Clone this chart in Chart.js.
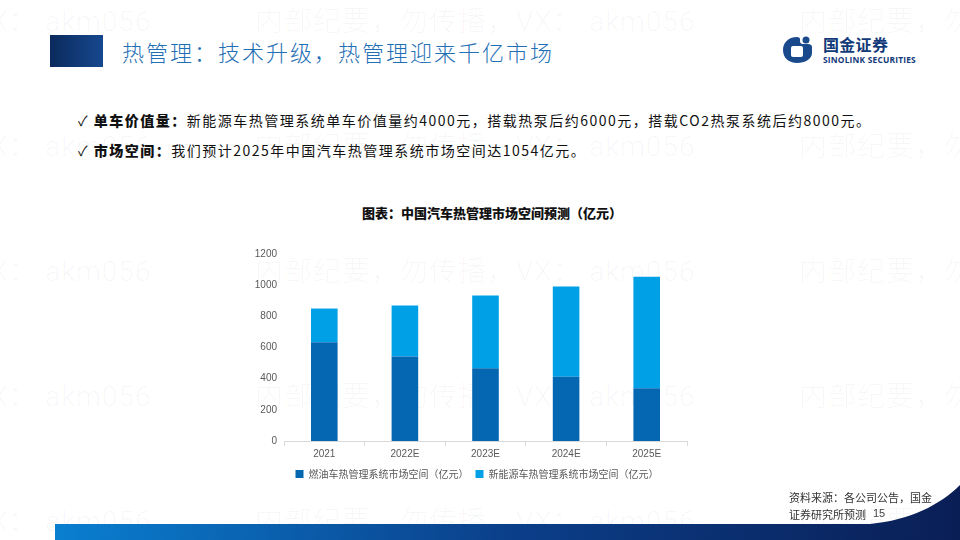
<!DOCTYPE html>
<html>
<head>
<meta charset="utf-8">
<script src="https://cdn.jsdelivr.net/npm/chart.js@4/dist/chart.umd.min.js"></script>
<style>
  html, body { margin:0; padding:0; background:#fff; }
  body { width:960px; height:540px; position:relative; overflow:hidden; font-family:"Noto Sans CJK SC","Noto Sans",sans-serif; }
  .wm { position:absolute; font-family:Roboto,"Noto Sans CJK SC",sans-serif; font-size:28px; line-height:28px; color:rgba(0,0,0,0.04); white-space:nowrap; font-weight:300; letter-spacing:1px; }
  .hdrblock { position:absolute; left:50px; top:35px; width:53px; height:32px; background:linear-gradient(90deg,#0b2a5c,#16488e); }
  .title { position:absolute; left:122px; top:35px; font-size:22px; color:#1f6fb5; font-weight:300; letter-spacing:2px; }
  .logo-cn { position:absolute; left:823px; top:32px; font-size:16px; font-weight:700; color:#123a79; letter-spacing:0.3px; }
  .logo-en { position:absolute; left:823px; top:54px; font-family:"Open Sans","DejaVu Sans",sans-serif; font-size:8.4px; font-weight:700; color:#123a79; letter-spacing:0.2px; }
  .bullet { position:absolute; left:78px; font-size:14px; color:#111; white-space:nowrap; font-family:"Noto Sans CJK SC",sans-serif; letter-spacing:1.5px; }
  .bullet b { font-weight:900; }
  .ctitle { position:absolute; left:12px; width:960px; text-align:center; top:203px; font-size:13px; font-weight:900; color:#111; }
  #wrap { position:absolute; left:240px; top:241px; width:474px; height:248px; }
  .src { position:absolute; left:789px; top:489px; font-size:11px; color:#333; line-height:17px; }
  .pno { position:absolute; left:873px; top:507px; font-size:11px; color:#444; font-family:"Liberation Sans",sans-serif; }
</style>
</head>
<body>
<div id="wms"></div>

<div class="hdrblock"></div>
<div class="title">热管理：技术升级，热管理迎来千亿市场</div>

<svg style="position:absolute;left:782px;top:36px" width="31" height="28" viewBox="0 0 31 28">
  <path d="M15 1 C6 1 1 7 1 14 C1 22 7 27 15 27 C23 27 30 23 30 17 L30 11 C30 9 28 8 26 8 L21 8 C19 8 18 7 18 5 L18 3 C18 2 17 1 15 1 Z" fill="#1b4a8c"/>
  <rect x="9" y="10" width="12" height="11" rx="2" fill="#fff"/>
  <circle cx="24" cy="4" r="3.5" fill="#1b4a8c"/>
</svg>
<div class="logo-cn">国金证券</div>
<div class="logo-en">SINOLINK SECURITIES</div>

<div class="bullet" style="top:110px">✓ <b>单车价值量：</b>新能源车热管理系统单车价值量约4000元，搭载热泵后约6000元，搭载CO2热泵系统后约8000元。</div>
<div class="bullet" style="top:140px">✓ <b>市场空间：</b>我们预计2025年中国汽车热管理系统市场空间达1054亿元。</div>

<div class="ctitle">图表：中国汽车热管理市场空间预测（亿元）</div>

<div id="wrap"><canvas id="c"></canvas></div>

<svg style="position:absolute;left:0;top:480px" width="960" height="60">
  <defs>
    <linearGradient id="g" x1="0" x2="1" y1="0" y2="0">
      <stop offset="0" stop-color="#0a7fd0"/>
      <stop offset="0.5" stop-color="#0b3f8a"/>
      <stop offset="1" stop-color="#0a1e55"/>
    </linearGradient>
  </defs>
  <path d="M55 44 L870 44 C910 40 940 25 960 5 L960 60 L55 60 Z" fill="url(#g)"/>
</svg>
<div class="src">资料来源：各公司公告，国金<br>证券研究所预测</div>
<div class="pno">15</div>

<script>
// watermark text (decorative)
const wmText = '内部纪要，勿传播，VX： akm056';
const wmRows = [8, 133, 258, 383, 508];
const wmCols = [-289, 255, 799];
const wmHost = document.getElementById('wms');
wmRows.forEach(t => wmCols.forEach(l => {
  const d = document.createElement('div');
  d.className = 'wm'; d.style.left = l + 'px'; d.style.top = t + 'px';
  d.textContent = wmText; wmHost.appendChild(d);
}));

const categories = ['2021', '2022E', '2023E', '2024E', '2025E'];
const fuelValues = [634, 542, 467, 413, 338];
const nevValues = [216, 328, 467, 579, 716];
const yTicks = [0, 200, 400, 600, 800, 1000, 1200];
const seriesNames = ['燃油车热管理系统市场空间（亿元）', '新能源车热管理系统市场空间（亿元）'];

new Chart(document.getElementById('c'), {
  type: 'bar',
  data: {
    labels: categories,
    datasets: [
      { label: seriesNames[0], data: fuelValues, backgroundColor: '#0567b1', borderWidth: 0 },
      { label: seriesNames[1], data: nevValues, backgroundColor: '#00a0e6', borderWidth: 0 }
    ]
  },
  options: {
    responsive: true,
    maintainAspectRatio: false,
    animation: false,
    layout: { padding: { top: 2, right: 0, bottom: 0, left: 0 } },
    datasets: { bar: { barPercentage: 0.33, categoryPercentage: 1 } },
    plugins: {
      tooltip: { enabled: false },
      legend: {
        position: 'bottom',
        labels: {
          boxWidth: 8, boxHeight: 8, padding: 7,
          color: '#595959',
          font: { size: 10, family: '"Noto Sans CJK SC", sans-serif' }
        }
      }
    },
    scales: {
      x: {
        stacked: true,
        grid: { display: true, drawOnChartArea: false, offset: true, tickLength: 5, color: '#d9d9d9' },
        border: { color: '#d9d9d9' },
        ticks: { color: '#595959', font: { size: 10, family: '"Liberation Sans", Arial, sans-serif' }, padding: 2 }
      },
      y: {
        stacked: true,
        min: 0, max: 1200,
        afterBuildTicks: (s) => { s.ticks = yTicks.map(v => ({ value: v })); },
        afterFit: (s) => { s.width = 44; },
        grid: { display: false, drawTicks: false },
        border: { display: false },
        ticks: { color: '#595959', font: { size: 10, family: '"Liberation Sans", Arial, sans-serif' }, padding: 7, callback: (v) => String(v) }
      },
      ySpacer: {
        position: 'right',
        min: 0, max: 1,
        afterFit: (s) => { s.width = 27; },
        grid: { display: false, drawTicks: false },
        border: { display: false },
        ticks: { display: false }
      }
    }
  }
});
</script>
</body>
</html>
